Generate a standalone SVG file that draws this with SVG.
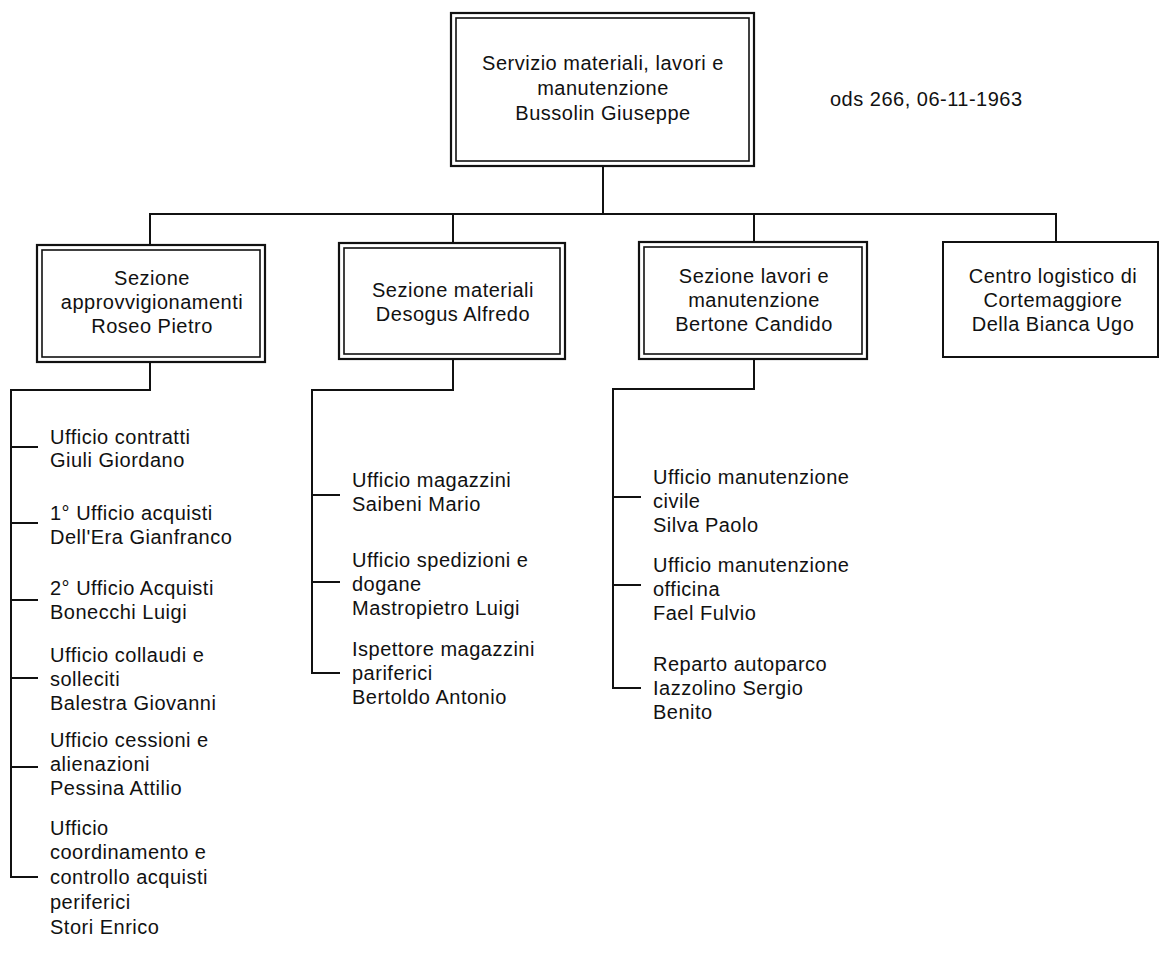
<svg xmlns="http://www.w3.org/2000/svg" width="1161" height="954" viewBox="0 0 1161 954">
  <style>
    .bg { fill: #ffffff; }
    .outer { fill: #ffffff; stroke: #111; stroke-width: 2.2; }
    .inner { fill: none; stroke: #111; stroke-width: 1.6; }
    .single { fill: #ffffff; stroke: #111; stroke-width: 2; }
    .link { fill: none; stroke: #111; stroke-width: 2; }
    text { font-family: "Liberation Sans", Arial, sans-serif; font-size: 20px; letter-spacing: 0.5px; fill: #111; }
    .c { text-anchor: middle; }
  </style>
  <rect class="bg" x="0" y="0" width="1161" height="954"/>

  <!-- connectors -->
  <g id="connectors">
    <!-- head to sections -->
    <path class="link" d="M603 166 V214"/>
    <path class="link" d="M150 245 V214 H1056 V242"/>
    <path class="link" d="M453 214 V243"/>
    <path class="link" d="M754 214 V242"/>
    <!-- approvvigionamenti -->
    <path class="link" d="M150 362 V390 H11 V877 H38"/>
    <path class="link" d="M11 447 H38 M11 523 H38 M11 600 H38 M11 678 H38 M11 767 H38"/>
    <!-- materiali -->
    <path class="link" d="M453 359 V390 H312 V673 H340"/>
    <path class="link" d="M312 495 H340 M312 582 H340"/>
    <!-- lavori e manutenzione -->
    <path class="link" d="M754 359 V389 H613 V688 H641"/>
    <path class="link" d="M613 497 H641 M613 585 H641"/>
  </g>

  <g id="head">
    <rect class="outer" x="451" y="13" width="303" height="153"/>
    <rect class="inner" x="456" y="18" width="293" height="143"/>
    <text class="c" x="603" y="70">Servizio materiali, lavori e</text>
    <text class="c" x="603" y="95">manutenzione</text>
    <text class="c" x="603" y="120">Bussolin Giuseppe</text>
  </g>

  <g id="note">
    <text x="830" y="106">ods 266, 06-11-1963</text>
  </g>

  <g id="sez-approvvigionamenti">
    <rect class="outer" x="37" y="245" width="228" height="117"/>
    <rect class="inner" x="42" y="250" width="218" height="107"/>
    <text class="c" x="152" y="285">Sezione</text>
    <text class="c" x="152" y="309">approvvigionamenti</text>
    <text class="c" x="152" y="333">Roseo Pietro</text>
  </g>

  <g id="sez-materiali">
    <rect class="outer" x="339" y="243" width="226" height="116"/>
    <rect class="inner" x="344" y="248" width="216" height="106"/>
    <text class="c" x="453" y="297">Sezione materiali</text>
    <text class="c" x="453" y="321">Desogus Alfredo</text>
  </g>

  <g id="sez-lavori">
    <rect class="outer" x="639" y="242" width="228" height="117"/>
    <rect class="inner" x="644" y="247" width="218" height="107"/>
    <text class="c" x="754" y="283">Sezione lavori e</text>
    <text class="c" x="754" y="307">manutenzione</text>
    <text class="c" x="754" y="331">Bertone Candido</text>
  </g>

  <g id="centro-logistico">
    <rect class="single" x="943" y="242" width="215" height="115"/>
    <text class="c" x="1053" y="283">Centro logistico di</text>
    <text class="c" x="1053" y="307">Cortemaggiore</text>
    <text class="c" x="1053" y="331">Della Bianca Ugo</text>
  </g>

  <!-- uffici della sezione approvvigionamenti -->
  <g id="uff-contratti">
    <text x="50" y="444">Ufficio contratti</text>
    <text x="50" y="467">Giuli Giordano</text>
  </g>
  <g id="uff-acquisti-1">
    <text x="50" y="520">1° Ufficio acquisti</text>
    <text x="50" y="544">Dell'Era Gianfranco</text>
  </g>
  <g id="uff-acquisti-2">
    <text x="50" y="595">2° Ufficio Acquisti</text>
    <text x="50" y="619">Bonecchi Luigi</text>
  </g>
  <g id="uff-collaudi">
    <text x="50" y="662">Ufficio collaudi e</text>
    <text x="50" y="686">solleciti</text>
    <text x="50" y="710">Balestra Giovanni</text>
  </g>
  <g id="uff-cessioni">
    <text x="50" y="747">Ufficio cessioni e</text>
    <text x="50" y="771">alienazioni</text>
    <text x="50" y="795">Pessina Attilio</text>
  </g>
  <g id="uff-coordinamento">
    <text x="50" y="835">Ufficio</text>
    <text x="50" y="859">coordinamento e</text>
    <text x="50" y="884">controllo acquisti</text>
    <text x="50" y="909">periferici</text>
    <text x="50" y="934">Stori Enrico</text>
  </g>

  <!-- uffici della sezione materiali -->
  <g id="uff-magazzini">
    <text x="352" y="487">Ufficio magazzini</text>
    <text x="352" y="511">Saibeni Mario</text>
  </g>
  <g id="uff-spedizioni">
    <text x="352" y="567">Ufficio spedizioni e</text>
    <text x="352" y="591">dogane</text>
    <text x="352" y="615">Mastropietro Luigi</text>
  </g>
  <g id="ispettore-magazzini">
    <text x="352" y="656">Ispettore magazzini</text>
    <text x="352" y="680">pariferici</text>
    <text x="352" y="704">Bertoldo Antonio</text>
  </g>

  <!-- uffici della sezione lavori e manutenzione -->
  <g id="uff-man-civile">
    <text x="653" y="484">Ufficio manutenzione</text>
    <text x="653" y="508">civile</text>
    <text x="653" y="532">Silva Paolo</text>
  </g>
  <g id="uff-man-officina">
    <text x="653" y="572">Ufficio manutenzione</text>
    <text x="653" y="596">officina</text>
    <text x="653" y="620">Fael Fulvio</text>
  </g>
  <g id="rep-autoparco">
    <text x="653" y="671">Reparto autoparco</text>
    <text x="653" y="695">Iazzolino Sergio</text>
    <text x="653" y="719">Benito</text>
  </g>
</svg>
